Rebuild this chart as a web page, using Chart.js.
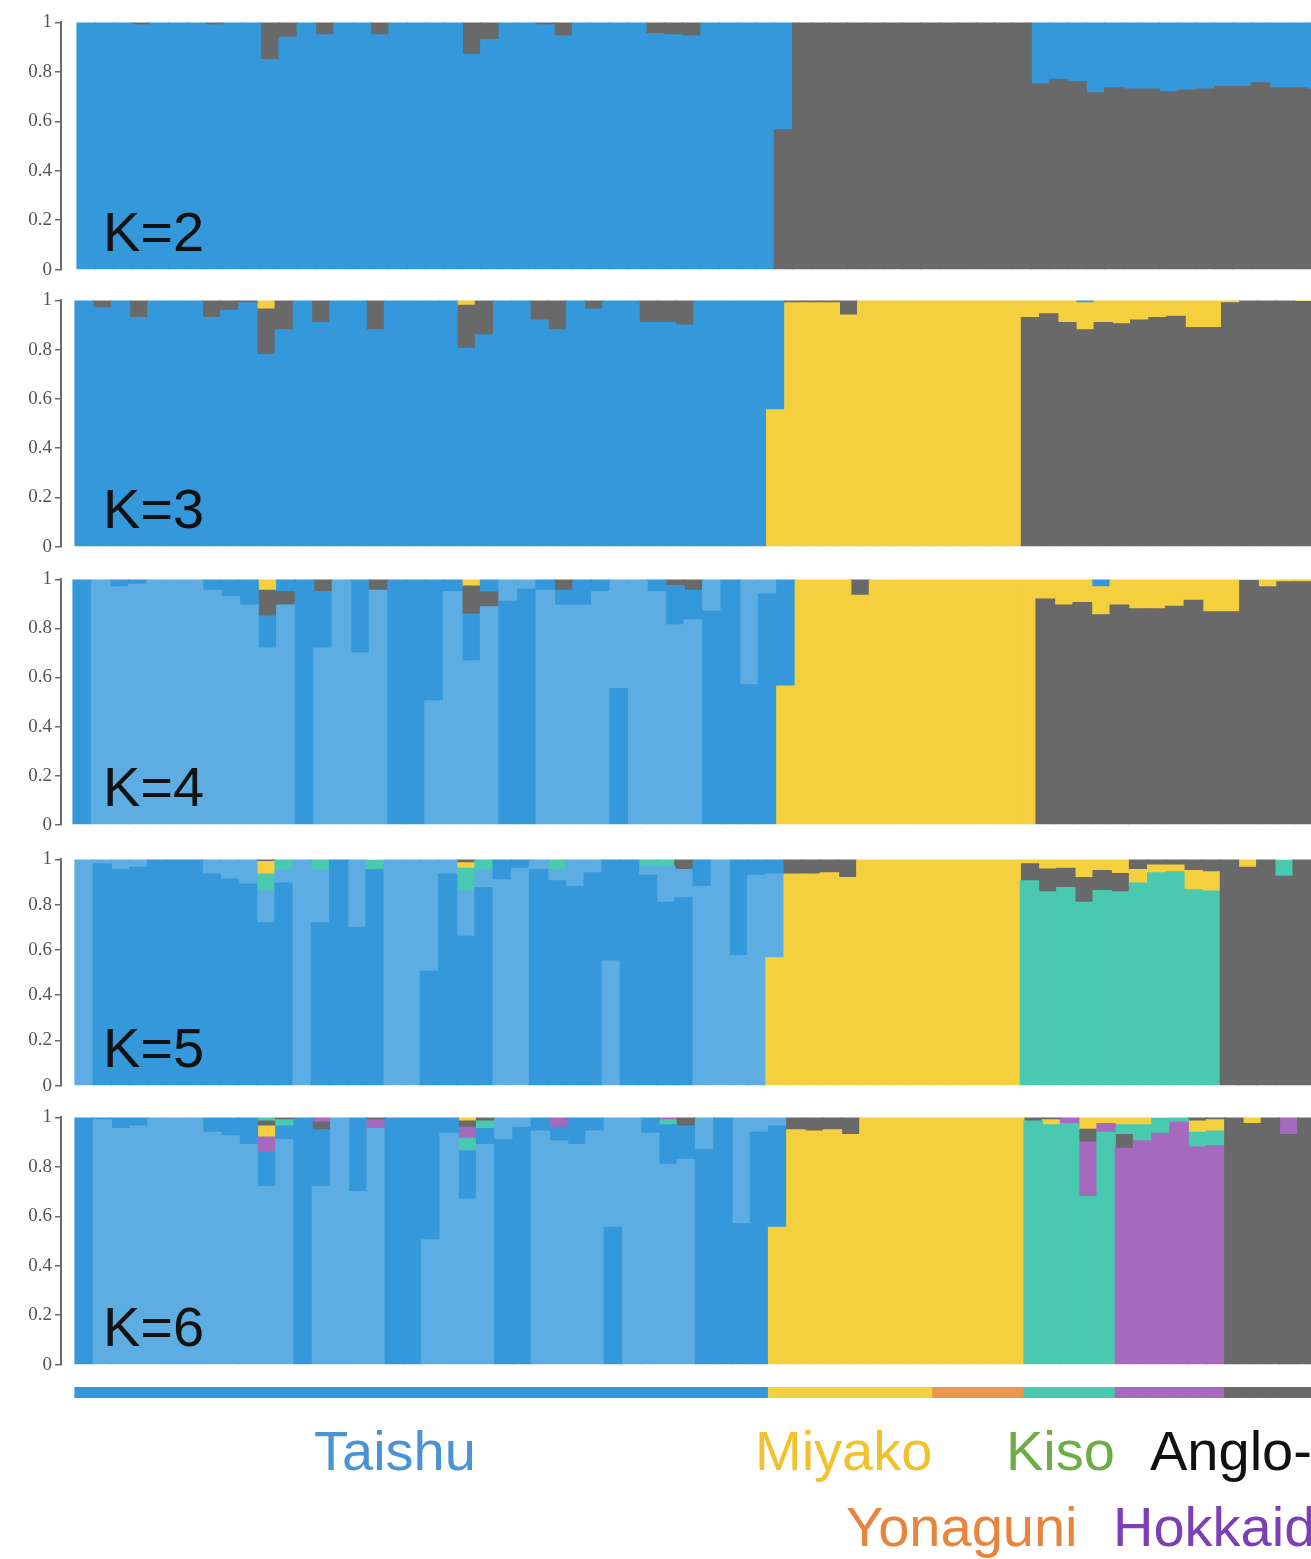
<!DOCTYPE html>
<html>
<head>
<meta charset="utf-8">
<script src="https://cdn.jsdelivr.net/npm/chart.js@4.4.1/dist/chart.umd.min.js"></script>
<style>
  html, body { margin: 0; padding: 0; background: #fff; overflow: hidden; }
  #page { position: relative; width: 1311px; height: 1559px; overflow: hidden; }
  #page canvas { position: absolute; left: 0; }
  .klabel { position: absolute; left: 103px; font: 56px 'Liberation Sans', Arial, sans-serif; line-height: 56px; color: #111; white-space: nowrap; }
  .pop { position: absolute; font: 56px 'Liberation Sans', Arial, sans-serif; line-height: 56px; white-space: nowrap; }
</style>
</head>
<body>
<div id="page"></div>
<script>
// Populations, in plotting order
const popNames = ['Taishu', 'Miyako', 'Yonaguni', 'Kiso', 'Hokkaido', 'Anglo-Arab'];
const popSizes = [38, 9, 5, 5, 6, 5];

// Membership coefficients (one value per individual, 68 individuals)
// K=2
const q2Blue = [1, 1, 1, .99, 1, 1, 1, .99, 1, 1,
  .85, .94, 1, .95, 1, 1, .95, 1, 1, 1,
  1, .87, .93, 1, 1, .99, .945, 1, 1, 1,
  1, .955, .95, .945, 1, 1, 1, 1, .435, 0,
  0, 0, 0, 0, 0, 0, 0, 0, 0, 0,
  0, 0, .25, .23, .24, .285, .265, .27, .27, .28,
  .275, .27, .26, .26, .245, .265, .265, .27];
const q2Grey = [0, 0, 0, .01, 0, 0, 0, .01, 0, 0,
  .15, .06, 0, .05, 0, 0, .05, 0, 0, 0,
  0, .13, .07, 0, 0, .01, .055, 0, 0, 0,
  0, .045, .05, .055, 0, 0, 0, 0, .565, 1,
  1, 1, 1, 1, 1, 1, 1, 1, 1, 1,
  1, 1, .75, .77, .76, .715, .735, .73, .73, .72,
  .725, .73, .74, .74, .755, .735, .735, .73];

// K=3
const q3Blue = [1, .97, 1, .93, 1, 1, 1, .93, .96, .99,
  .78, .88, 1, .91, 1, 1, .88, 1, 1, 1,
  1, .805, .86, 1, 1, .92, .88, 1, .965, 1,
  1, .91, .91, .9, 1, 1, 1, 1, .445, 0,
  0, 0, 0, 0, 0, 0, 0, 0, 0, 0,
  0, 0, 0, 0, 0, .01, 0, 0, 0, 0,
  0, 0, 0, 0, 0, 0, 0, 0];
const q3Yellow = [0, 0, 0, 0, 0, 0, 0, 0, 0, 0,
  .035, 0, 0, 0, 0, 0, 0, 0, 0, 0,
  0, .02, 0, 0, 0, 0, 0, 0, 0, 0,
  0, 0, 0, 0, 0, 0, 0, 0, .555, .99,
  .99, .99, .94, 1, 1, 1, 1, 1, 1, 1,
  1, 1, .07, .055, .09, .11, .09, .095, .08, .07,
  .065, .11, .11, .01, 0, 0, 0, .005];
const q3Grey = [0, .03, 0, .07, 0, 0, 0, .07, .04, .01,
  .185, .12, 0, .09, 0, 0, .12, 0, 0, 0,
  0, .175, .14, 0, 0, .08, .12, 0, .035, 0,
  0, .09, .09, .1, 0, 0, 0, 0, 0, .01,
  .01, .01, .06, 0, 0, 0, 0, 0, 0, 0,
  0, 0, .93, .945, .91, .88, .91, .905, .92, .93,
  .935, .89, .89, .99, 1, 1, 1, .995];

// K=4
const q4Dark = [1, 0, .03, .02, 0, 0, 0, .045, .07, .105,
  .13, .05, 1, .23, 0, .3, 0, 1, 1, .495,
  .05, .19, .052, .91, .96, .045, .06, .105, .05, .555,
  0, .05, .16, .12, .87, 1, .57, .94, .435, 0,
  0, 0, 0, 0, 0, 0, 0, 0, 0, 0,
  0, 0, 0, 0, 0, .03, 0, 0, 0, 0,
  0, 0, 0, 0, 0, 0, 0, 0];
const q4Light = [0, 1, .97, .98, 1, 1, 1, .955, .93, .895,
  .72, .895, 0, .72, 1, .7, .955, 0, 0, .505,
  .95, .668, .888, .09, .04, .955, .895, .895, .95, .445,
  1, .95, .815, .835, .13, 0, .43, .06, 0, 0,
  0, 0, 0, 0, 0, 0, 0, 0, 0, 0,
  0, 0, 0, 0, 0, 0, 0, 0, 0, 0,
  0, 0, 0, 0, 0, 0, 0, 0];
const q4Grey = [0, 0, 0, 0, 0, 0, 0, 0, 0, 0,
  .105, .055, 0, .05, 0, 0, .045, 0, 0, 0,
  0, .115, .06, 0, 0, 0, .045, 0, 0, 0,
  0, 0, .025, .045, 0, 0, 0, 0, 0, 0,
  0, 0, .065, 0, 0, 0, 0, 0, 0, 0,
  0, 0, .92, .895, .905, .855, .895, .88, .88, .89,
  .915, .868, .868, .995, .97, .99, .99, .99];
const q4Yellow = [0, 0, 0, 0, 0, 0, 0, 0, 0, 0,
  .045, 0, 0, 0, 0, 0, 0, 0, 0, 0,
  0, .027, 0, 0, 0, 0, 0, 0, 0, 0,
  0, 0, 0, 0, 0, 0, 0, 0, .565, 1,
  1, 1, .935, 1, 1, 1, 1, 1, 1, 1,
  1, 1, .08, .105, .095, .115, .105, .12, .12, .11,
  .085, .132, .132, .005, .03, .01, .01, .01];

// K=5
const q5Dark = [0, .98, .955, .965, 1, 1, 1, .935, .913, .89,
  .72, .895, 0, .72, 1, .7, .955, 0, 0, .505,
  .935, .66, .875, .09, .04, .955, .905, .88, .94, .45,
  1, .93, .81, .83, .12, 0, .425, .07, .065, 0,
  0, 0, 0, 0, 0, 0, 0, 0, 0, 0,
  0, 0, 0, 0, 0, 0, 0, 0, 0, 0,
  0, 0, 0, 0, 0, 0, 0, 0];
const q5Light = [1, .02, .045, .035, 0, 0, 0, .065, .087, .11,
  .14, .055, 1, .235, 0, .3, 0, 1, 1, .495,
  .065, .2, .075, .91, .96, .045, .05, .12, .06, .55,
  0, .04, .16, .125, .88, 1, .575, .93, .37, 0,
  0, 0, 0, 0, 0, 0, 0, 0, 0, 0,
  0, 0, 0, 0, 0, 0, 0, 0, 0, 0,
  0, 0, 0, 0, 0, 0, 0, 0];
const q5Grey = [0, 0, 0, 0, 0, 0, 0, 0, 0, 0,
  .01, 0, 0, 0, 0, 0, 0, 0, 0, 0,
  0, .015, 0, 0, 0, 0, 0, 0, 0, 0,
  0, 0, 0, .045, 0, 0, 0, 0, 0, .065,
  .065, .06, .08, 0, 0, 0, 0, 0, 0, 0,
  0, 0, .075, .1, .085, .11, .088, .08, .045, .025,
  .025, .05, .055, 1, .965, 1, .925, 1];
const q5Yellow = [0, 0, 0, 0, 0, 0, 0, 0, 0, 0,
  .055, 0, 0, 0, 0, 0, .005, 0, 0, 0,
  0, .025, 0, 0, 0, 0, 0, 0, 0, 0,
  0, 0, 0, 0, 0, 0, 0, 0, .565, .935,
  .935, .94, .92, 1, 1, 1, 1, 1, 1, 1,
  1, 1, .02, .043, .04, .08, .05, .063, .06, .035,
  .03, .085, .085, 0, .035, 0, .005, 0];
const q5Teal = [0, 0, 0, 0, 0, 0, 0, 0, 0, 0,
  .075, .05, 0, .045, 0, 0, .04, 0, 0, 0,
  0, .1, .05, 0, 0, 0, .045, 0, 0, 0,
  0, .03, .03, 0, 0, 0, 0, 0, 0, 0,
  0, 0, 0, 0, 0, 0, 0, 0, 0, 0,
  0, 0, .905, .857, .875, .81, .862, .857, .895, .94,
  .945, .865, .86, 0, 0, 0, .07, 0];

// K=6
const q6Light = [0, .99, .955, .965, 1, 1, 1, .94, .925, .89,
  .72, .91, 0, .72, 1, .7, .955, 0, 0, .505,
  .935, .67, .89, .09, .04, .945, .905, .89, .945, .445,
  1, .935, .81, .83, .13, 0, .43, .06, .035, 0,
  0, 0, 0, 0, 0, 0, 0, 0, 0, 0,
  0, 0, 0, 0, 0, 0, 0, 0, 0, 0,
  0, 0, 0, 0, 0, 0, 0, 0];
const q6Dark = [1, .01, .045, .035, 0, 0, 0, .06, .075, .11,
  .14, .055, 1, .23, 0, .3, 0, 1, 1, .495,
  .065, .195, .065, .91, .96, .055, .055, .11, .055, .555,
  0, .065, .16, .135, .87, 1, .57, .94, .41, 0,
  0, 0, 0, 0, 0, 0, 0, 0, 0, 0,
  0, 0, 0, 0, 0, 0, 0, 0, 0, 0,
  0, 0, 0, 0, 0, 0, 0, 0];
const q6Grey = [0, 0, 0, 0, 0, 0, 0, 0, 0, 0,
  .02, .005, 0, .03, 0, 0, .01, 0, 0, 0,
  0, .025, .015, 0, 0, 0, 0, 0, 0, 0,
  0, 0, 0, .035, 0, 0, 0, 0, 0, .05,
  .055, .05, .07, 0, 0, 0, 0, 0, 0, 0,
  0, 0, .015, .01, 0, .052, 0, .055, 0, 0,
  0, .015, .01, 1, .975, 1, .93, 1];
const q6Yellow = [0, 0, 0, 0, 0, 0, 0, 0, 0, 0,
  .045, 0, 0, 0, 0, 0, 0, 0, 0, 0,
  0, .015, 0, 0, 0, 0, 0, 0, 0, 0,
  0, 0, 0, 0, 0, 0, 0, 0, .555, .95,
  .945, .95, .93, 1, 1, 1, 1, 1, 1, 1,
  1, 1, 0, .02, 0, .048, .025, .03, .03, .005,
  0, .045, .045, 0, .025, 0, 0, 0];
const q6Teal = [0, 0, 0, 0, 0, 0, 0, 0, 0, 0,
  .015, .025, 0, 0, 0, 0, 0, 0, 0, 0,
  0, .05, .03, 0, 0, 0, 0, 0, 0, 0,
  0, 0, .02, 0, 0, 0, 0, 0, 0, 0,
  0, 0, 0, 0, 0, 0, 0, 0, 0, 0,
  0, 0, .985, .97, .975, .68, .94, .04, .065, .06,
  .02, .06, .06, 0, 0, 0, 0, 0];
const q6Purple = [0, 0, 0, 0, 0, 0, 0, 0, 0, 0,
  .06, .005, 0, .02, 0, 0, .035, 0, 0, 0,
  0, .045, 0, 0, 0, 0, .04, 0, 0, 0,
  0, 0, .01, 0, 0, 0, 0, 0, 0, 0,
  0, 0, 0, 0, 0, 0, 0, 0, 0, 0,
  0, 0, 0, 0, .025, .22, .035, .875, .905, .935,
  .98, .88, .885, 0, 0, 0, .07, 0];

const kLabels = ['K=2', 'K=3', 'K=4', 'K=5', 'K=6'];
const yTicks = [0, 0.2, 0.4, 0.6, 0.8, 1];

// ---- styling / layout ----
const clusterColor = {
  dark: '#3498db', light: '#5dade2', grey: '#696969',
  yellow: '#f4d03f', teal: '#48c9b0', purple: '#a569bd'
};
const popBarColor = ['#3498db', '#f4d03f', '#eb984e', '#48c9b0', '#a569bd', '#696969'];
const popTextColor = ['#4a94d6', '#f2c12e', '#e8843c', '#6cae45', '#7d3fb5', '#111111'];
const popTextPos = [[314, 1423], [755, 1423], [846, 1499], [1006, 1423], [1113, 1499], [1150, 1423]];

const PAGE_W = 1311;
const AXIS_X = 61;
const PAD = 12;
const panelGeo = [
  {top: 20, bottom: 272, left: 77, w: 18.35},
  {top: 298, bottom: 549, left: 75, w: 18.2},
  {top: 577, bottom: 827, left: 73, w: 18.52},
  {top: 857, bottom: 1088, left: 75, w: 18.18},
  {top: 1115, bottom: 1367, left: 75, w: 18.25}
];

const panelClusters = [
  [['dark', q2Blue], ['grey', q2Grey]],
  [['dark', q3Blue], ['yellow', q3Yellow], ['grey', q3Grey]],
  [['dark', q4Dark], ['light', q4Light], ['grey', q4Grey], ['yellow', q4Yellow]],
  [['dark', q5Dark], ['light', q5Light], ['grey', q5Grey], ['yellow', q5Yellow], ['teal', q5Teal]],
  [['light', q6Light], ['dark', q6Dark], ['grey', q6Grey], ['yellow', q6Yellow], ['teal', q6Teal], ['purple', q6Purple]]
];

const page = document.getElementById('page');

function makeCanvas(top, height) {
  const c = document.createElement('canvas');
  c.width = PAGE_W;
  c.height = height;
  c.style.top = top + 'px';
  c.style.width = PAGE_W + 'px';
  c.style.height = height + 'px';
  page.appendChild(c);
  return c;
}

// each individual: largest component at the bottom, smaller ones stacked above
function buildLayers(clusters) {
  const n = clusters[0][1].length;
  const layers = clusters.map(() => ({data: [], colors: []}));
  for (let i = 0; i < n; i++) {
    const order = clusters.map((c, j) => j)
      .sort((a, b) => clusters[b][1][i] - clusters[a][1][i]);
    order.forEach((j, l) => {
      const v = clusters[j][1][i];
      layers[l].data.push({x: i, y: v > 0 ? v : null});
      layers[l].colors.push(clusterColor[clusters[j][0]]);
    });
  }
  return layers;
}

panelGeo.forEach((geo, p) => {
  const layers = buildLayers(panelClusters[p]);
  const h = geo.bottom - geo.top;
  const canvas = makeCanvas(geo.top - PAD, h + 2 * PAD);
  const xMin = -0.5 - (geo.left - AXIS_X) / geo.w;
  const xMax = xMin + (PAGE_W - AXIS_X) / geo.w;

  new Chart(canvas, {
    type: 'bar',
    data: {
      datasets: layers.map(l => ({
        data: l.data,
        backgroundColor: l.colors,
        borderWidth: 0,
        barThickness: geo.w,
        inflateAmount: 0.6,
        clip: 0
      }))
    },
    options: {
      responsive: false,
      animation: false,
      devicePixelRatio: 1,
      layout: {padding: {top: PAD, bottom: PAD, left: 0, right: 0}},
      plugins: {legend: {display: false}, tooltip: {enabled: false}},
      scales: {
        x: {type: 'linear', display: false, stacked: true, offset: false, min: xMin, max: xMax,
            ticks: {stepSize: 10}},
        y: {
          stacked: true, min: 0, max: 1,
          afterFit: function(scale) { scale.width = AXIS_X; },
          afterBuildTicks: function(scale) { scale.ticks = yTicks.map(v => ({value: v})); },
          border: {display: true, color: '#6b6b6b', width: 2},
          grid: {drawOnChartArea: false, drawTicks: true, tickLength: 6, color: '#6b6b6b', lineWidth: 1.5},
          ticks: {
            padding: 3,
            color: '#555',
            font: {family: "'Liberation Serif', 'Times New Roman', serif", size: 19},
            callback: function(value) { return String(Number(value.toFixed(1))); }
          }
        }
      }
    }
  });

  const lab = document.createElement('div');
  lab.className = 'klabel';
  lab.textContent = kLabels[p];
  lab.style.top = (geo.bottom - 21 - 47.4) + 'px';
  page.appendChild(lab);
});

// population bar under the panels
(function() {
  const geo = panelGeo[4];
  const popData = [];
  const popColors = [];
  let idx = 0;
  popSizes.forEach((n, k) => {
    for (let j = 0; j < n; j++) {
      popData.push({x: idx, y: 1});
      popColors.push(popBarColor[k]);
      idx++;
    }
  });
  const canvas = makeCanvas(1387, 11);
  const xMin = -0.5 - geo.left / geo.w;
  new Chart(canvas, {
    type: 'bar',
    data: {datasets: [{data: popData, backgroundColor: popColors, borderWidth: 0,
                       barThickness: geo.w, inflateAmount: 0.6}]},
    options: {
      responsive: false,
      animation: false,
      devicePixelRatio: 1,
      layout: {padding: 0},
      plugins: {legend: {display: false}, tooltip: {enabled: false}},
      scales: {
        x: {type: 'linear', display: false, offset: false, min: xMin, max: xMin + PAGE_W / geo.w,
            ticks: {stepSize: 10}},
        y: {display: false, min: 0, max: 1}
      }
    }
  });
})();

popNames.forEach((name, k) => {
  const t = document.createElement('div');
  t.className = 'pop';
  t.textContent = name;
  t.style.color = popTextColor[k];
  t.style.left = popTextPos[k][0] + 'px';
  t.style.top = popTextPos[k][1] + 'px';
  page.appendChild(t);
});
</script>
</body>
</html>
